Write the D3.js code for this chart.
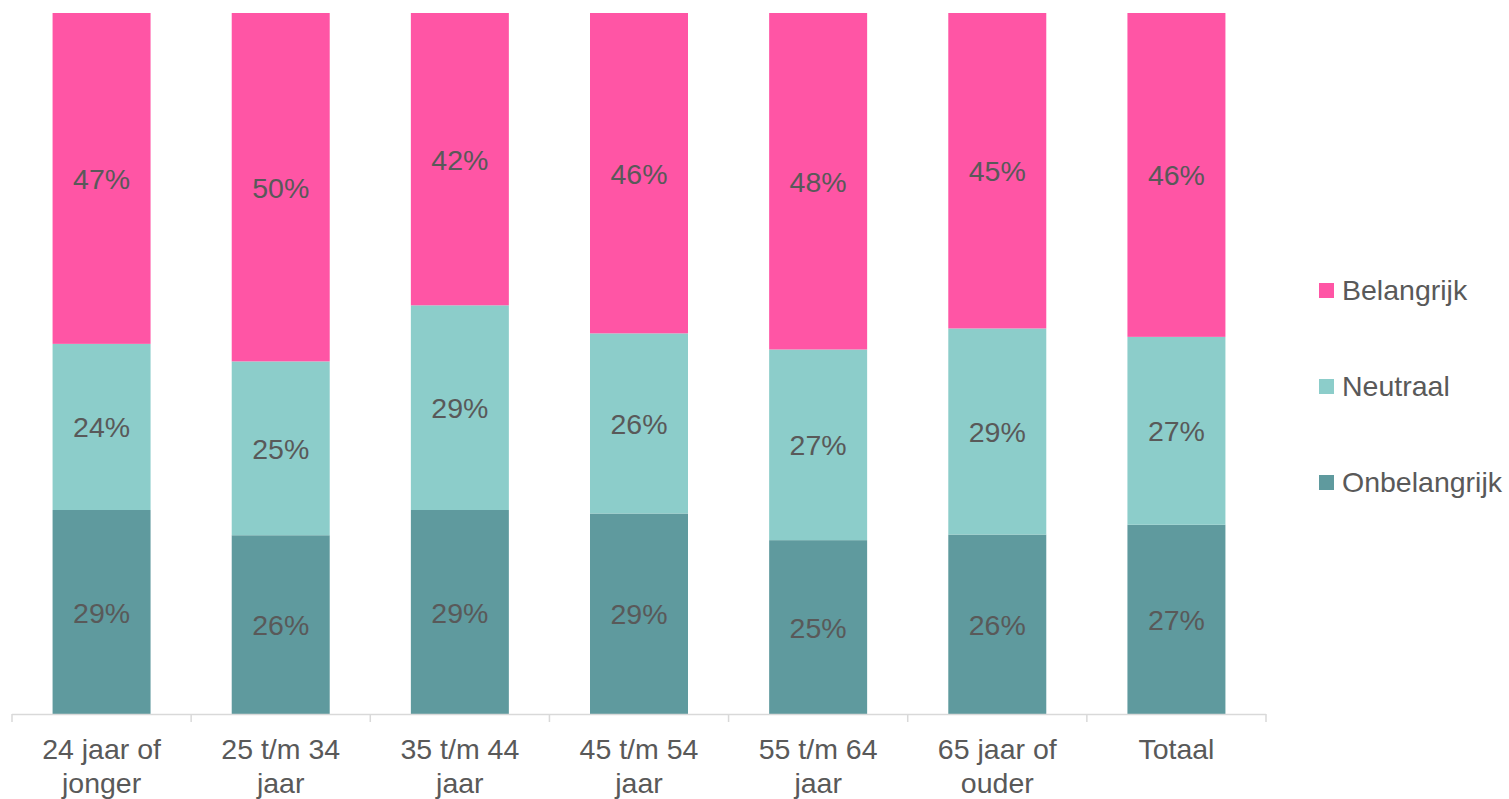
<!DOCTYPE html>
<html>
<head>
<meta charset="utf-8">
<script src="https://cdn.jsdelivr.net/npm/d3@7.9.0/dist/d3.min.js"></script>
<style>
  body { margin: 0; background: #fff; }
  svg { display: block; font-family: "Liberation Sans", Arial, sans-serif; }
</style>
</head>
<body>
<svg id="chart" width="1509" height="799"></svg>
<script>
// -------------------------
// Data (percentages, labels are rounded)
// -------------------------
const categories = [
  ['24 jaar of', 'jonger'],
  ['25 t/m 34', 'jaar'],
  ['35 t/m 44', 'jaar'],
  ['45 t/m 54', 'jaar'],
  ['55 t/m 64', 'jaar'],
  ['65 jaar of', 'ouder'],
  ['Totaal']
];
const onbelangrijk = [29.1, 25.5, 29.1, 28.6, 24.8, 25.6, 27.0];
const neutraal     = [23.7, 24.8, 29.2, 25.7, 27.2, 29.4, 26.8];
const belangrijk   = [47.2, 49.7, 41.7, 45.7, 48.0, 45.0, 46.2];

const seriesNames  = ['Onbelangrijk', 'Neutraal', 'Belangrijk'];
const seriesColors = ['#5F9A9E', '#8CCDCA', '#FF55A5'];

// build rows for d3.stack
const rows = categories.map((c, i) => ({
  key: i,
  Onbelangrijk: onbelangrijk[i],
  Neutraal: neutraal[i],
  Belangrijk: belangrijk[i]
}));

const svg = d3.select('#chart');
const textColor = '#595959';
const fontSize = 28.5;

// -------------------------
// Scales
// -------------------------
const x = d3.scaleBand()
  .domain(d3.range(categories.length))
  .range([12, 1266])
  .paddingInner(0.453)
  .paddingOuter(0.2265);

const y = d3.scaleLinear().domain([0, 1]).range([714, 13]);

const stacked = d3.stack()
  .keys(seriesNames)
  .offset(d3.stackOffsetExpand)(rows);

// -------------------------
// Bars + labels
// -------------------------
stacked.forEach((layer, si) => {
  const g = svg.append('g');
  g.selectAll('rect')
    .data(layer)
    .join('rect')
    .attr('x', (d, i) => x(i))
    .attr('width', x.bandwidth())
    .attr('y', d => y(d[1]))
    .attr('height', d => y(d[0]) - y(d[1]))
    .attr('fill', seriesColors[si]);

  g.selectAll('text')
    .data(layer)
    .join('text')
    .attr('x', (d, i) => x(i) + x.bandwidth() / 2)
    .attr('y', d => (y(d[0]) + y(d[1])) / 2 + 10.5)
    .attr('text-anchor', 'middle')
    .attr('font-size', fontSize)
    .attr('fill', textColor)
    .text(d => Math.round(d.data[layer.key]) + '%');
});

// -------------------------
// X axis (ticks at band boundaries)
// -------------------------
const axisColor = '#D9D9D9';
svg.append('line')
  .attr('x1', x.range()[0]).attr('x2', x.range()[1])
  .attr('y1', 714.5).attr('y2', 714.5)
  .attr('stroke', axisColor).attr('stroke-width', 1.5);

const bounds = d3.range(categories.length + 1).map(i => x.range()[0] + i * x.step());
svg.append('g').selectAll('line')
  .data(bounds)
  .join('line')
  .attr('x1', d => d).attr('x2', d => d)
  .attr('y1', 714).attr('y2', 722)
  .attr('stroke', axisColor).attr('stroke-width', 1.5);

const labels = svg.append('g').selectAll('text')
  .data(categories)
  .join('text')
  .attr('text-anchor', 'middle')
  .attr('font-size', fontSize)
  .attr('fill', textColor);

labels.selectAll('tspan')
  .data((d, i) => d.map(line => ({ line, i })))
  .join('tspan')
  .attr('x', d => x(d.i) + x.bandwidth() / 2)
  .attr('y', (d, j) => 759 + j * 34)
  .text(d => d.line);

// -------------------------
// Legend
// -------------------------
const legendOrder = ['Belangrijk', 'Neutraal', 'Onbelangrijk'];
const legend = svg.append('g')
  .selectAll('g')
  .data(legendOrder)
  .join('g')
  .attr('transform', (d, i) => `translate(1319, ${290.5 + i * 96})`);

legend.append('rect')
  .attr('x', 0).attr('y', -7.5)
  .attr('width', 15).attr('height', 15)
  .attr('fill', d => seriesColors[seriesNames.indexOf(d)]);

legend.append('text')
  .attr('x', 23).attr('y', 9)
  .attr('font-size', fontSize)
  .attr('fill', textColor)
  .text(d => d);
</script>
</body>
</html>
